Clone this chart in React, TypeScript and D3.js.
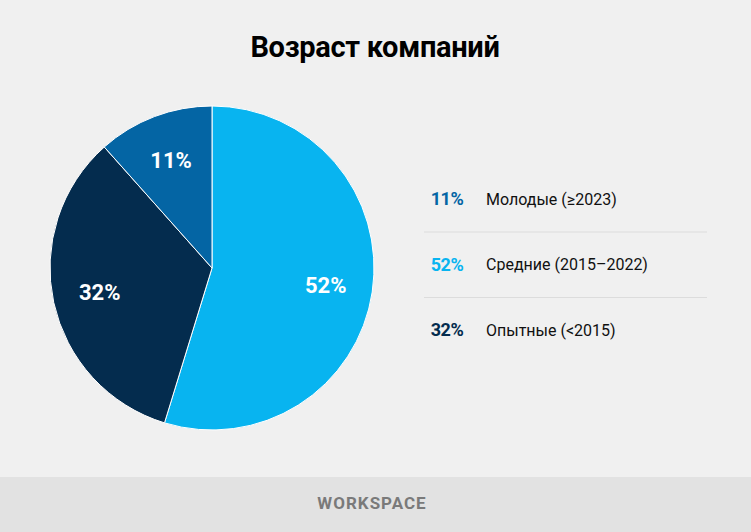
import * as d3 from 'd3';

// chart data
const categories = ['Средние (2015–2022)', 'Опытные (<2015)', 'Молодые (≥2023)'];
const values = [52, 32, 11];
const colors = ['#08B4F0', '#042C4E', '#0465A4'];
const legendOrder = [2, 0, 1];

const width = 751;
const height = 532;

const App = () => {
    const cx = 212;
    const cy = 268;
    const radius = 162;

    const pie = d3.pie<number>().sort(null).value(d => d);
    const arcs = pie(values);
    const arc = d3.arc<d3.PieArcDatum<number>>().innerRadius(0).outerRadius(radius);
    const labelArc = d3.arc<d3.PieArcDatum<number>>().innerRadius(115).outerRadius(115);

    // legend rows
    const legendY = d3.scalePoint<number>().domain(legendOrder).range([199, 330]);

    return (
        <div style={{ position: 'fixed', left: 0, top: 0, width, height }}>
            <svg width={width} height={height} style={{ display: 'block' }}>
                <rect width={width} height={height} fill="#F0F0F0" />
                <text x={375} y={57} textAnchor="middle"
                    style={{ font: 'bold 29px Roboto', fill: '#000', letterSpacing: '-0.3px' }}>
                    Возраст компаний
                </text>

                <g transform={`translate(${cx}, ${cy})`}>
                    {arcs.map((a, i) => (
                        <path key={i} d={arc(a) || ''} fill={colors[i]} stroke="#fff" strokeWidth={1} />
                    ))}
                    {arcs.map((a, i) => {
                        const [lx, ly] = labelArc.centroid(a);
                        return (
                            <text key={i} x={lx} y={ly} dy="0.35em" textAnchor="middle"
                                style={{ font: 'bold 22px Roboto', fill: '#fff' }}>
                                {values[i]}%
                            </text>
                        );
                    })}
                </g>

                <g>
                    {legendOrder.map((idx, k) => (
                        <g key={idx} transform={`translate(0, ${legendY(idx)})`}>
                            <text x={447} y={0} dy="0.35em" textAnchor="middle"
                                style={{ font: 'bold 18px Roboto', fill: colors[idx], letterSpacing: '-0.5px' }}>
                                {values[idx]}%
                            </text>
                            <text x={486} y={0} dy="0.35em"
                                style={{ font: '16px Roboto', fill: '#111' }}>
                                {categories[idx]}
                            </text>
                            {k < legendOrder.length - 1 && (
                                <line x1={424} x2={707} y1={33} y2={33} stroke="#DCDCDC" strokeWidth={1} />
                            )}
                        </g>
                    ))}
                </g>

                <rect x={0} y={477} width={width} height={height - 477} fill="#E2E2E2" />
                <text x={372} y={503} dy="0.35em" textAnchor="middle"
                    style={{ font: 'bold 17px Roboto', fill: '#7A7A7A', letterSpacing: '1px' }}>
                    WORKSPACE
                </text>
            </svg>
        </div>
    );
};

export default App;
